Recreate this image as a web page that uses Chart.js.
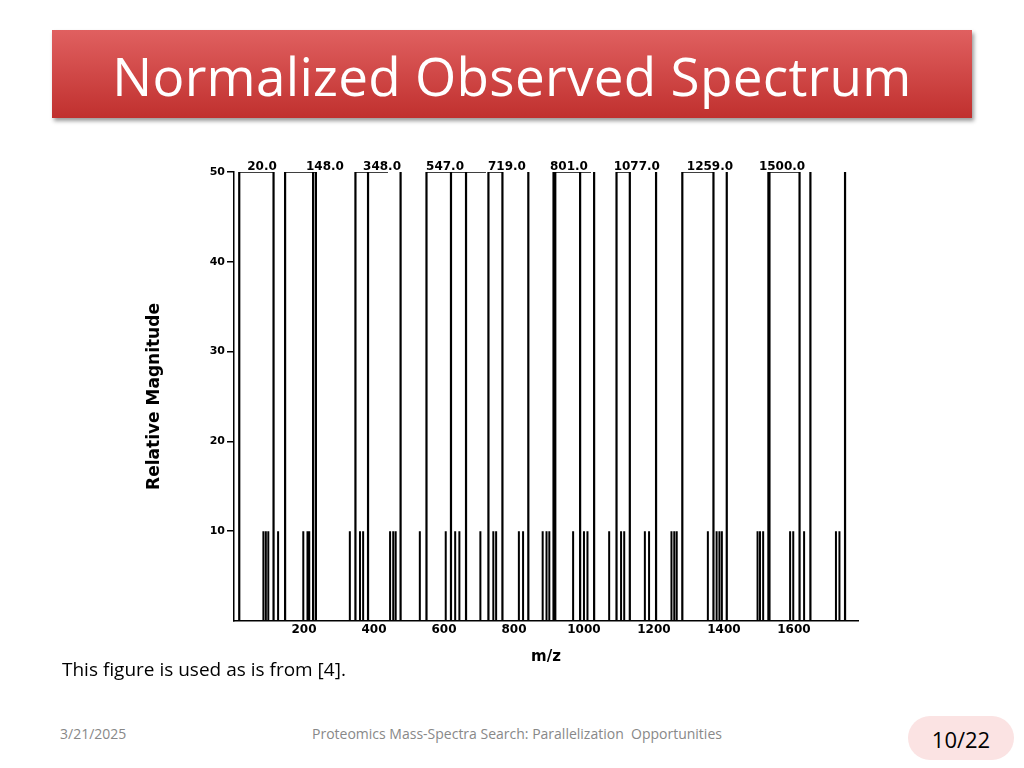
<!DOCTYPE html>
<html><head><meta charset="utf-8">
<script src="https://cdn.jsdelivr.net/npm/chart.js@4"></script>
<style>
body{margin:0;width:1024px;height:768px;background:#fff;position:relative;font-family:"Open Sans",Lato,sans-serif;overflow:hidden}
#banner{position:absolute;left:52px;top:30px;width:920px;height:88px;background:linear-gradient(#e06060,#c0302e);box-shadow:2px 3px 4px rgba(0,0,0,.4)}
#banner div{color:#fff;font-size:53px;text-align:center;line-height:92px;font-family:"Open Sans",sans-serif;letter-spacing:0.3px}
#cw{position:absolute;left:140px;top:150px;width:730px;height:520px}
.t{position:absolute;color:#000}
</style></head><body>
<div id="banner"><div>Normalized Observed Spectrum</div></div>
<div id="cw"><canvas id="c"></canvas></div>
<div class="t" style="left:62px;top:656px;font-size:19px">This figure is used as is from [4].</div>
<div class="t" style="left:60px;top:724px;font-size:14px;color:#888">3/21/2025</div>
<div class="t" style="left:312px;top:724px;font-size:14px;color:#888">Proteomics Mass-Spectra Search: Parallelization&nbsp; Opportunities</div>
<div class="t" style="left:908px;top:716px;width:106px;height:44px;border-radius:22px;background:#fbe3e3;font-size:22px;text-align:center;line-height:46px">10/22</div>
<script>
const tallPeaks=[15,113,146,226,234,347,383,476,550,620,663,727,767,841,913,918,989,1029,1093,1131,1206,1281,1370,1408,1527,1530,1616,1647,1746];
const tallHeights=tallPeaks.map(()=>50);
const shortPeaks=[84,91,98,126,198,210,215,331,360,369,446,455,462,531,605,632,644,704,741,749,814,826,882,893,901,969,1000,1010,1072,1106,1115,1174,1186,1250,1258,1265,1354,1379,1387,1394,1496,1503,1512,1589,1598,1629,1720,1730];
const shortHeights=shortPeaks.map(()=>10);
const peakLabels=["20.0","148.0","348.0","547.0","719.0","801.0","1077.0","1259.0","1500.0"];
const labelX=[80,260,423,603,780,957,1151,1360,1566];
const bracketStart=[15,146,347,550,727,913,1093,1281,1530];
const bracketEnd=[113,234,440,720,767,1020,1131,1370,1616];
const xTicks=[200,400,600,800,1000,1200,1400,1600];
const yTicks=[10,20,30,40,50];
function segs(xs,hs){const d=[];xs.forEach((x,i)=>{d.push({x,y:0},{x,y:hs[i]},{x,y:null});});return d;}
const brackets=[];bracketStart.forEach((s,i)=>{brackets.push({x:s,y:50},{x:bracketEnd[i],y:50},{x:s,y:null});});
const labelPlugin={id:'lp',afterDraw(ch){const c=ch.ctx,xs=ch.scales.x,ys=ch.scales.y;c.save();c.font='bold 12px "DejaVu Sans"';c.fillStyle='#000';c.textAlign='center';c.textBaseline='bottom';
peakLabels.forEach((l,i)=>c.fillText(l,xs.getPixelForValue(labelX[i]),ys.getPixelForValue(50)+1));c.restore();}};
new Chart(document.getElementById('c'),{type:'line',
data:{datasets:[
{data:segs(tallPeaks,tallHeights),borderColor:'#000',borderWidth:2.2,pointRadius:0,spanGaps:false},
{data:segs(shortPeaks,shortHeights),borderColor:'#000',borderWidth:2,pointRadius:0,spanGaps:false},
{data:brackets,borderColor:'#000',borderWidth:1.3,pointRadius:0,spanGaps:false}]},
options:{animation:false,responsive:true,maintainAspectRatio:false,
layout:{padding:{top:22,right:12,left:0,bottom:0}},
plugins:{legend:{display:false},tooltip:{enabled:false}},
scales:{
x:{type:'linear',min:0,max:1783,grid:{display:false,drawTicks:false},border:{color:'#000',width:1.5},
afterFit(a){a.height=49;},
afterBuildTicks(a){a.ticks=xTicks.map(v=>({value:v}));},
ticks:{color:'#000',font:{family:'DejaVu Sans',weight:'bold',size:12},padding:2,autoSkip:false,callback:v=>String(v)},
title:{display:true,text:'m/z',color:'#000',font:{family:'DejaVu Sans',weight:'bold',size:15},padding:{top:4}}},
y:{min:0,max:50,grid:{display:true,tickLength:7,drawOnChartArea:false,color:'#000',lineWidth:1.5},border:{color:'#000',width:1.5},
afterFit(a){a.width=94;},
afterBuildTicks(a){a.ticks=yTicks.map(v=>({value:v}));},
ticks:{color:'#000',font:{family:'DejaVu Sans',weight:'bold',size:11},padding:2},
title:{display:true,text:'Relative Magnitude',color:'#000',font:{family:'DejaVu Sans',weight:'bold',size:17},padding:{bottom:36}}}}},
plugins:[labelPlugin]});
</script></body></html>
